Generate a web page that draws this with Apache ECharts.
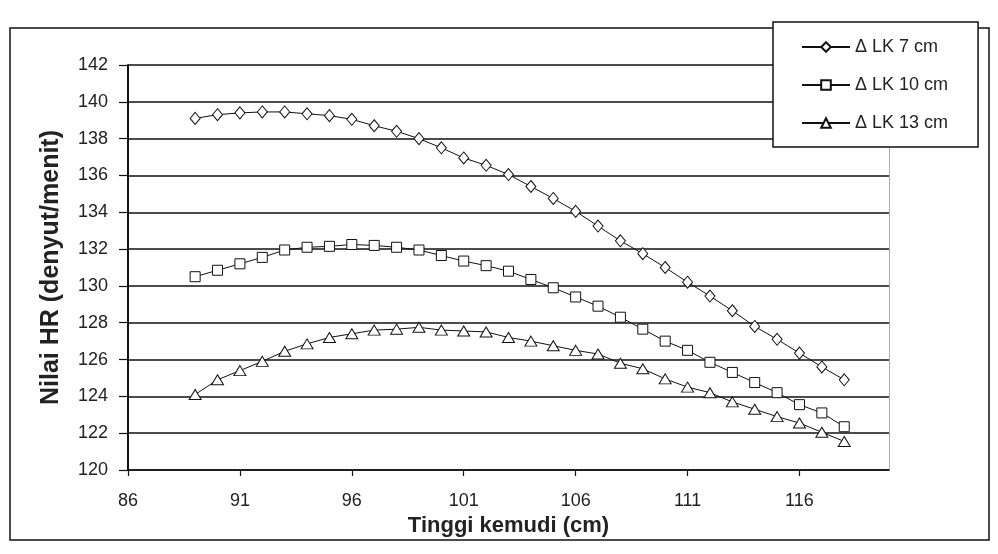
<!DOCTYPE html>
<html>
<head>
<meta charset="utf-8">
<script src="https://cdn.jsdelivr.net/npm/echarts@6/dist/echarts.min.js"></script>
<style>
html,body{margin:0;padding:0;background:#fff;}
#chart{width:998px;height:554px;}
</style>
</head>
<body>
<div id="chart"></div>
<script>
// Data
const tinggi = [89,90,91,92,93,94,95,96,97,98,99,100,101,102,103,104,105,106,107,108,109,110,111,112,113,114,115,116,117,118];
const lk7  = [139.1,139.3,139.4,139.45,139.45,139.35,139.25,139.05,138.7,138.4,138.0,137.5,136.95,136.55,136.05,135.4,134.75,134.05,133.25,132.45,131.75,131.0,130.2,129.45,128.65,127.8,127.1,126.35,125.6,124.9];
const lk10 = [130.5,130.85,131.2,131.55,131.95,132.1,132.15,132.25,132.2,132.1,131.95,131.65,131.35,131.1,130.8,130.35,129.9,129.4,128.9,128.3,127.65,127.0,126.5,125.85,125.3,124.75,124.2,123.55,123.1,122.35];
const lk13 = [124.1,124.9,125.4,125.9,126.45,126.85,127.2,127.4,127.6,127.65,127.75,127.6,127.55,127.5,127.2,127.0,126.75,126.5,126.3,125.8,125.5,124.95,124.5,124.2,123.7,123.3,122.9,122.55,122.05,121.55];
const seriesNames = ['\u0394 LK 7 cm','\u0394 LK 10 cm','\u0394 LK 13 cm'];
const seriesSymbols = ['diamond','rect','triangle'];
const xTitle = 'Tinggi kemudi (cm)';
const yTitle = 'Nilai HR (denyut/menit)';

const FONT = "'Liberation Sans Narrow','Liberation Sans',Arial,sans-serif";
const chart = echarts.init(document.getElementById('chart'), null, {renderer:'canvas'});

function pairs(ys){ return tinggi.map((x,i)=>[x, ys[i]]); }
const allY = [lk7, lk10, lk13];
const symSizes = [[10,12],[10,10],[12,10]];

const series = allY.map((ys, k) => ({
  name: seriesNames[k],
  type: 'line',
  data: pairs(ys),
  symbol: seriesSymbols[k],
  symbolSize: symSizes[k],
  showSymbol: true,
  lineStyle: {color:'#111', width:1},
  itemStyle: {color:'#fff', borderColor:'#111', borderWidth:1},
  z: 3 + k
}));

chart.setOption({
  animation: false,
  backgroundColor: '#fff',
  textStyle: {fontFamily: FONT},
  graphic: [{
    type: 'rect', z: -1,
    shape: {x: 10, y: 28, width: 979, height: 512},
    style: {fill: 'none', stroke: '#111', lineWidth: 1.5}
  }],
  grid: {left: 128, right: 109, top: 65, bottom: 84, containLabel: false},
  legend: {
    orient: 'vertical',
    left: 773, top: 22,
    padding: [15, 30, 14, 28],
    itemGap: 18,
    itemWidth: 48, itemHeight: 12,
    backgroundColor: '#fff',
    borderColor: '#111', borderWidth: 1.5,
    textStyle: {fontFamily: FONT, fontSize: 18, color: '#222', lineHeight: 20},
    data: seriesNames
  },
  xAxis: {
    type: 'value', min: 86, max: 120, interval: 5,
    name: xTitle, nameLocation: 'middle', nameGap: 42,
    nameTextStyle: {fontFamily: FONT, fontSize: 22, fontWeight: 'bold', color: '#222'},
    axisLine: {show: true, lineStyle: {color: '#111', width: 1.5}},
    axisTick: {show: true, length: 6, lineStyle: {color: '#111', width: 1.2}},
    axisLabel: {fontFamily: FONT, fontSize: 18, color: '#222', margin: 22, showMaxLabel: false},
    splitLine: {show: false}
  },
  yAxis: [{
    type: 'value', min: 120, max: 142, interval: 2,
    name: yTitle, nameLocation: 'middle', nameGap: 64,
    nameTextStyle: {fontFamily: FONT, fontSize: 25, fontWeight: 'bold', color: '#222'},
    axisLine: {show: true, lineStyle: {color: '#111', width: 2}},
    axisTick: {show: true, length: 9, lineStyle: {color: '#111', width: 1.2}},
    axisLabel: {fontFamily: FONT, fontSize: 18, color: '#222', margin: 20},
    splitLine: {show: true, lineStyle: {color: '#111', width: 1.5}}
  }, {
    type: 'value', min: 120, max: 142, interval: 2, position: 'right',
    axisLine: {show: true, lineStyle: {color: '#999', width: 1, type: 'dotted'}},
    axisTick: {show: false}, axisLabel: {show: false}, splitLine: {show: false}
  }],
  series: series
});
</script>
</body>
</html>
